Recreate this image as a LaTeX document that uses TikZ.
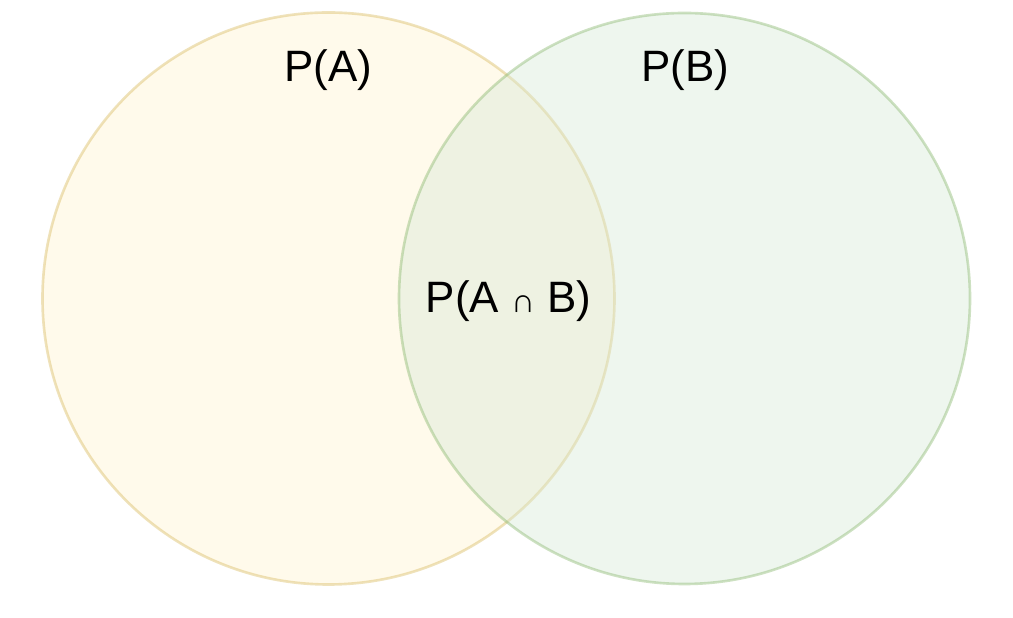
\documentclass[tikz,border=0pt]{standalone}
\usepackage{fontspec}
\setmainfont{Liberation Sans}
\definecolor{setAfill}{HTML}{FFF2CC}
\definecolor{setAline}{HTML}{D6B656}
\definecolor{setBfill}{HTML}{D5E8D4}
\definecolor{setBline}{HTML}{82B366}
\usetikzlibrary{positioning}

\begin{document}
\begin{tikzpicture}[
    setA/.style={circle,draw=setAline,fill=setAfill,line width=1.5pt,
                 fill opacity=0.4,draw opacity=0.4,minimum size=11.44cm,
                 inner sep=0pt},
    setB/.style={circle,draw=setBline,fill=setBfill,line width=1.5pt,
                 fill opacity=0.4,draw opacity=0.4,minimum size=11.42cm,
                 inner sep=0pt},
    lbl/.style={font=\fontsize{25}{30}\selectfont,text=black,inner sep=0pt}
  ]
    \useasboundingbox (0,0) rectangle (20.26,12.36);
    % Sets
    \node[setA] (circA) at (6.57,6.39) {};
    \node[setB] (circB) at (13.69,6.39) {};
    % Labels
    \node[lbl] (labA)  at (6.57,10.96)  {P(A)};
    \node[lbl] (labB)  at (13.70,10.96) {P(B)};
    \node[lbl] (labAB) at (10.17,6.33) {P(A {\fontsize{19}{22}\selectfont ∩} B)};
  \end{tikzpicture}
\end{document}
